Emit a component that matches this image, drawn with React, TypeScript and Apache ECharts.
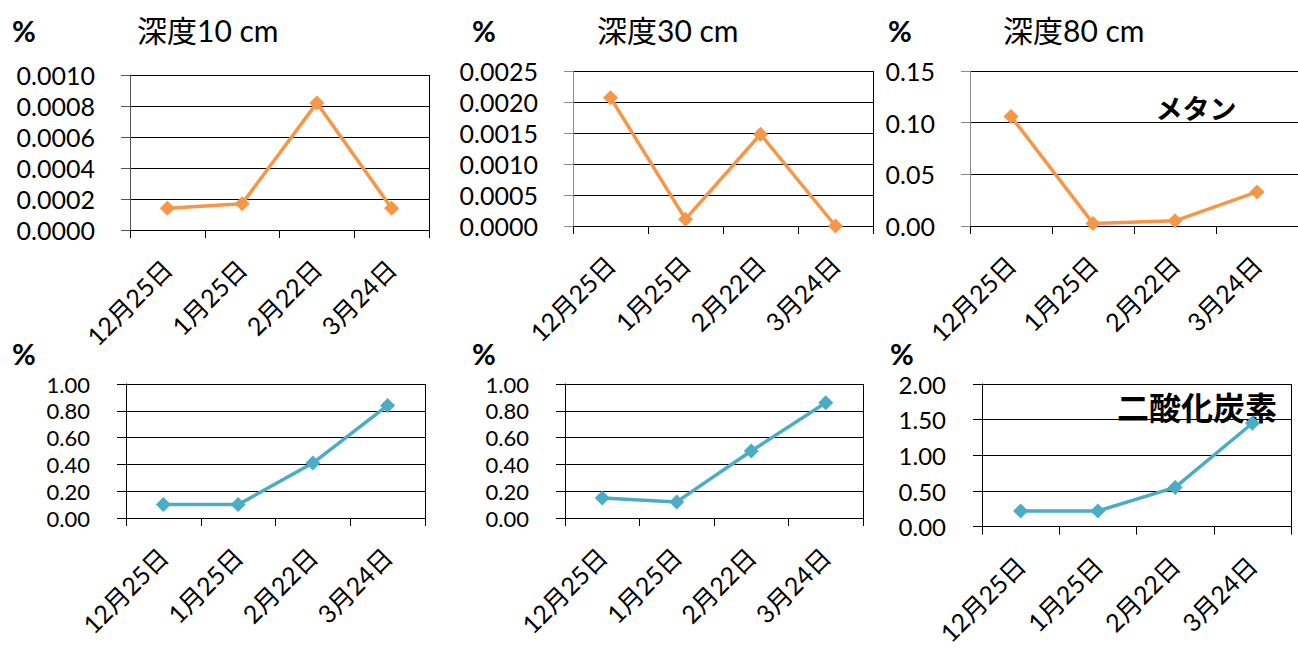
import React, { useEffect, useRef } from "react";
import * as echarts from "echarts";

// Sampling dates (category axis)
const dates = ["12月25日", "1月25日", "2月22日", "3月24日"];

// Methane concentration (%) at each depth
const methane10 = [0.00014, 0.00017, 0.00082, 0.00014];
const methane30 = [0.00207, 0.00011, 0.00148, 0.0];
const methane80 = [0.106, 0.0025, 0.005, 0.033];

// Carbon dioxide concentration (%) at each depth
const co2_10 = [0.1, 0.1, 0.41, 0.84];
const co2_30 = [0.15, 0.12, 0.5, 0.86];
const co2_80 = [0.22, 0.22, 0.55, 1.45];

// Depth titles and gas labels
const depthTitles = ["深度10 cm", "深度30 cm", "深度80 cm"];
const gasLabels = ["メタン", "二酸化炭素"];
const unitLabel = "%";

// Value-axis scales: [min, max, interval, decimals]
const scales: [number, number, number, number][] = [
  [0, 0.001, 0.0002, 4],
  [0, 0.0025, 0.0005, 4],
  [0, 0.15, 0.05, 2],
  [0, 1, 0.2, 2],
  [0, 1, 0.2, 2],
  [0, 2, 0.5, 2],
];

const FONT = "Lato, 'Noto Sans CJK JP', sans-serif";
const ORANGE = "#f79646";
const BLUE = "#4bacc6";

const seriesData = [methane10, methane30, methane80, co2_10, co2_30, co2_80];

const layouts = [
  { left: 130, top: 75, width: 299, height: 155 },
  { left: 573, top: 71, width: 300, height: 155 },
  { left: 970, top: 71, width: 329, height: 155 },
  { left: 126, top: 384, width: 299, height: 134 },
  { left: 565, top: 384, width: 298, height: 134 },
  { left: 982, top: 384, width: 309, height: 145 },
];

const axisColors = ["#555", "#8a8a8a", "#8a8a8a", "#000", "#000", "#000"];
// Tick labels of the lower (tighter) panels are set a little smaller
const yLabelSizes = [25, 25, 25, 22, 22, 24];

export default function App() {
  const ref = useRef<HTMLDivElement>(null);

  useEffect(() => {
    document.body.style.margin = "0";
    if (!ref.current) return;
    const chart = echarts.init(ref.current, undefined, { renderer: "svg" });

    const clear = "rgba(0,0,0,0)";

    const option: any = {
      animation: false,
      backgroundColor: "#fff",
      grid: layouts.map((l) => ({ ...l, containLabel: false })),
      xAxis: layouts.map((_, i) => ({
        type: "category",
        gridIndex: i,
        data: dates,
        boundaryGap: true,
        axisLine: { show: true, lineStyle: { color: "#000", width: 1 } },
        axisTick: {
          show: true,
          length: 8,
          interval: 0,
          alignWithLabel: false,
          lineStyle: { color: "#000" },
        },
        axisLabel: {
          rotate: 45,
          margin: 34,
          interval: 0,
          fontSize: 25,
          color: "#000",
          fontFamily: FONT,
        },
        splitLine: {
          show: true,
          interval: 0,
          lineStyle: { color: [clear, clear, clear, clear, "#000"], width: 1 },
        },
      })),
      yAxis: scales.map(([min, max, interval, dec], i) => ({
        type: "value",
        gridIndex: i,
        min,
        max,
        interval,
        axisLine: { show: true, lineStyle: { color: axisColors[i], width: 1 } },
        axisTick: { show: true, length: 9, lineStyle: { color: axisColors[i] } },
        axisLabel: {
          margin: i < 3 ? 35 : 36,
          fontSize: yLabelSizes[i],
          lineHeight: 22,
          color: "#000",
          fontFamily: FONT,
          formatter: (v: number) => v.toFixed(dec),
        },
        splitLine: { show: true, lineStyle: { color: "#000", width: 1 } },
      })),
      series: seriesData.map((d, i) => ({
        type: "line",
        xAxisIndex: i,
        yAxisIndex: i,
        data: d,
        clip: false,
        symbol: "diamond",
        symbolSize: 15,
        lineStyle: { width: 3.5, color: i < 3 ? ORANGE : BLUE },
        itemStyle: { color: i < 3 ? ORANGE : BLUE },
      })),
      graphic: [
        // depth titles
        ...depthTitles.map((t, i) => ({
          type: "text",
          x: [137, 597, 1003][i],
          y: 30,
          style: {
            text: t,
            font: `30px ${FONT}`,
            fill: "#000",
            textAlign: "left",
            textVerticalAlign: "middle",
          },
        })),
        // unit labels
        ...[
          [12, 30],
          [472, 30],
          [888, 30],
          [12, 353],
          [472, 353],
          [890, 353],
        ].map(([x, y]) => ({
          type: "text",
          x,
          y,
          style: {
            text: unitLabel,
            font: `bold 29px ${FONT}`,
            fill: "#000",
            textAlign: "left",
            textVerticalAlign: "middle",
          },
        })),
        {
          type: "text",
          x: 1196,
          y: 108,
          style: {
            text: gasLabels[0],
            font: `bold 27px ${FONT}`,
            fill: "#000",
            textAlign: "center",
            textVerticalAlign: "middle",
          },
        },
        {
          type: "text",
          x: 1197,
          y: 407,
          style: {
            text: gasLabels[1],
            font: `bold 32px ${FONT}`,
            fill: "#000",
            textAlign: "center",
            textVerticalAlign: "middle",
          },
        },
      ],
    };

    chart.setOption(option);
    return () => chart.dispose();
  }, []);

  return <div ref={ref} style={{ width: 1298, height: 648 }} />;
}
